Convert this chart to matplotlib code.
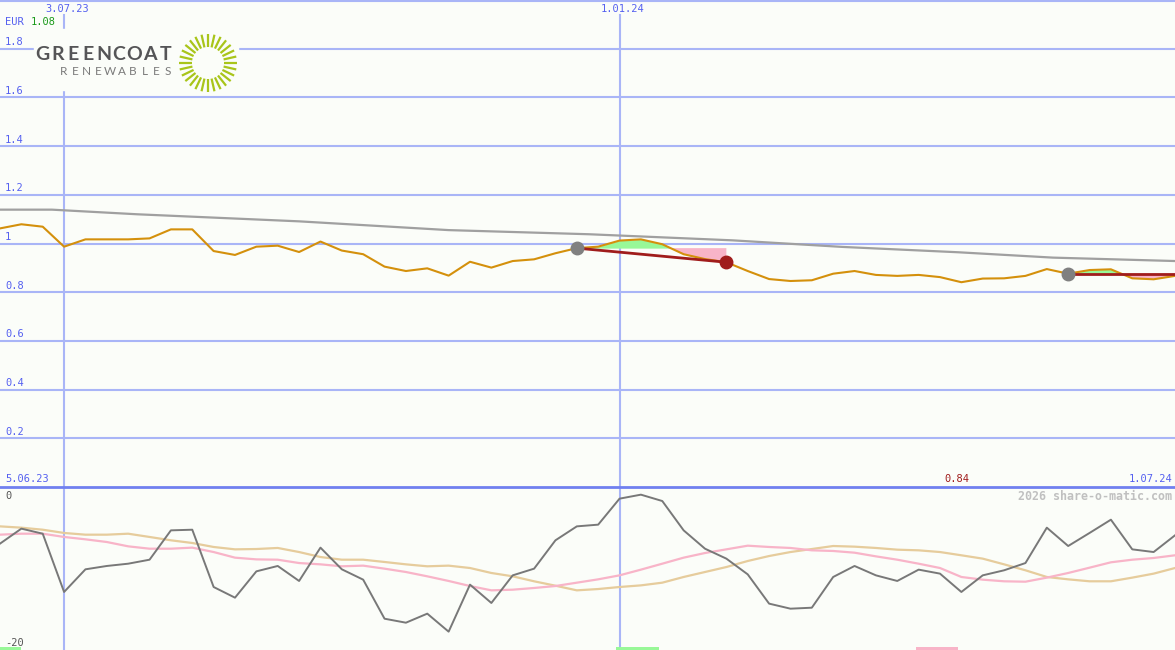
import numpy as np
import pandas as pd
import matplotlib
matplotlib.use('Agg')
import matplotlib.pyplot as plt

# ---- data ----
weeks = pd.date_range('2023-06-12', periods=56, freq='7D')

price = [1.062, 1.079, 1.069, 0.987, 1.017, 1.017, 1.017, 1.021, 1.058, 1.058,
         0.969, 0.953, 0.987, 0.991, 0.965, 1.008, 0.971, 0.956, 0.905, 0.887,
         0.898, 0.868, 0.925, 0.901, 0.928, 0.935, 0.960, 0.981, 0.987, 1.012,
         1.017, 0.997, 0.956, 0.936, 0.923, 0.887, 0.854, 0.846, 0.849, 0.876,
         0.887, 0.871, 0.867, 0.871, 0.862, 0.841, 0.856, 0.857, 0.867, 0.895,
         0.876, 0.891, 0.894, 0.857, 0.853, 0.867]

trend_dates = pd.to_datetime(['2023-06-12', '2023-06-29', '2023-07-27', '2023-09-18',
                              '2023-11-06', '2023-12-22', '2024-02-07', '2024-03-14',
                              '2024-04-21', '2024-05-22', '2024-07-01'])
trend_vals = [1.139, 1.139, 1.120, 1.091, 1.055, 1.038, 1.013, 0.986, 0.964, 0.942, 0.928]

osc = [-6.95, -5.11, -5.73, -12.88, -10.10, -9.69, -9.41, -8.92, -5.32, -5.24,
       -12.27, -13.58, -10.35, -9.69, -11.53, -7.44, -10.10, -11.37, -16.16, -16.65,
       -15.54, -17.75, -11.98, -14.23, -10.84, -10.02, -6.54, -4.83, -4.62, -1.43,
       -0.94, -1.72, -5.32, -7.57, -8.79, -10.72, -14.31, -14.93, -14.81, -11.04,
       -9.69, -10.84, -11.53, -10.14, -10.63, -12.88, -10.84, -10.22, -9.33, -4.99,
       -7.24, -5.64, -4.01, -7.65, -7.98, -5.93]

osc_fast = [-5.85, -5.73, -5.73, -6.13, -6.42, -6.75, -7.28, -7.57, -7.57, -7.44,
            -7.98, -8.67, -8.88, -8.92, -9.33, -9.49, -9.73, -9.65, -10.02, -10.43,
            -10.96, -11.53, -12.15, -12.68, -12.60, -12.39, -12.15, -11.74, -11.33, -10.84,
            -10.14, -9.41, -8.67, -8.10, -7.65, -7.20, -7.36, -7.48, -7.77, -7.85,
            -8.06, -8.51, -8.92, -9.41, -9.94, -11.04, -11.37, -11.57, -11.62, -11.12,
            -10.55, -9.90, -9.24, -8.92, -8.71, -8.38]

osc_slow = [-4.83, -4.99, -5.24, -5.64, -5.85, -5.85, -5.73, -6.13, -6.54, -6.87,
            -7.36, -7.65, -7.61, -7.48, -7.98, -8.59, -8.92, -8.92, -9.20, -9.49,
            -9.73, -9.65, -9.94, -10.55, -10.96, -11.57, -12.11, -12.68, -12.52, -12.27,
            -12.07, -11.74, -11.04, -10.43, -9.82, -9.08, -8.47, -7.98, -7.61, -7.24,
            -7.32, -7.48, -7.69, -7.77, -7.98, -8.38, -8.79, -9.49, -10.22, -11.04,
            -11.33, -11.57, -11.57, -11.12, -10.63, -9.94]

buy_idx = [27, 50]
sell_idx = [34]
green_spans = [('2023-06-05', '2023-06-19'), ('2023-12-31', '2024-01-14')]
pink_spans = [('2024-04-07', '2024-04-21')]
vlines = ['2023-07-03', '2024-01-01']
vlabels = ['3.07.23', '1.01.24']
yticks = [0.2, 0.4, 0.6, 0.8, 1.0, 1.2, 1.4, 1.6, 1.8, 2.0]

# ---- styling ----
BG = '#fbfdf9'
GRID = '#a9b5f7'
BLUE = '#5560f0'
mono = 'DejaVu Sans Mono'
x0, x1 = pd.Timestamp('2023-06-12'), pd.Timestamp('2024-07-01')
price = np.array(price)

fig = plt.figure(figsize=(11.75, 6.5), dpi=100, facecolor=BG)
ax = fig.add_axes([0, 163 / 650, 1, 487 / 650], facecolor=BG)
ax2 = fig.add_axes([0, 0, 1, 163 / 650], facecolor=BG)

for a in (ax, ax2):
    a.set_xlim(x0, x1)
    for s in a.spines.values():
        s.set_visible(False)
    a.set_xticks([])
    a.set_yticks([])

ax.set_ylim(0, 2.0)
ax2.set_ylim(-20, 0)

# grid
for v in yticks:
    ax.axhline(v, color=GRID, lw=1.5, zorder=1)
    if v < 2.0:
        ax.text(5 / 1175, v + 0.006, f'{v:g}', transform=ax.get_yaxis_transform(),
                color=BLUE, fontsize=7.5, family=mono, va='bottom', ha='left')
for d, lab in zip(vlines, vlabels):
    ax.axvline(pd.Timestamp(d), ymax=0.97, color=GRID, lw=1.5, zorder=1)
    ax2.axvline(pd.Timestamp(d), color=GRID, lw=1.5, zorder=1)
    ax.text(pd.Timestamp(d) + pd.Timedelta(days=1), 0.982, lab, transform=ax.get_xaxis_transform(),
            color=BLUE, fontsize=7.5, family=mono, ha='center', va='center')

# trend line
ax.plot(trend_dates, trend_vals, color='#a0a0a0', lw=1.6, zorder=3)

# signal fills
segs = [(buy_idx[0], sell_idx[0] + 1), (buy_idx[1], len(price))]
for s, e in segs:
    xs = weeks[s:e]
    ys = price[s:e]
    lvl = price[s]
    ax.fill_between(xs, ys, lvl, where=ys >= lvl, interpolate=True, color='#98f898', lw=0, zorder=2)
    ax.fill_between(xs, ys, lvl, where=ys <= lvl, interpolate=True, color='#f8b4c8', lw=0, zorder=2)

ax.plot(weeks, price, color='#d4900c', lw=1.5, zorder=4)

# signal lines and dots
ax.plot([weeks[buy_idx[0]], weeks[sell_idx[0]]], [price[buy_idx[0]], price[sell_idx[0]]],
        color='#a01c1c', lw=2, zorder=5)
ax.plot([weeks[buy_idx[1]], x1], [price[buy_idx[1]]] * 2, color='#a01c1c', lw=2, zorder=5)
ax.plot(weeks[buy_idx], price[buy_idx], 'o', color='#808080', ms=9, zorder=6)
ax.plot(weeks[sell_idx], price[sell_idx], 'o', color='#a01c1c', ms=9, zorder=6)

# labels top
ax.text(5 / 1175, 1 - 22 / 487, 'EUR', transform=ax.transAxes, color=BLUE,
        fontsize=7.5, family=mono, va='center')
ax.text(31 / 1175, 1 - 22 / 487, f'{price.max():.2f}', transform=ax.transAxes,
        color='#1a9a1a', fontsize=7.5, family=mono, va='center')
ax.text(5 / 1175, 8 / 487, '5.06.23', transform=ax.transAxes, color=BLUE,
        fontsize=7.5, family=mono, va='center')
ax.text(1172 / 1175, 8 / 487, '1.07.24', transform=ax.transAxes, color=BLUE,
        fontsize=7.5, family=mono, va='center', ha='right')
imin = int(np.argmin(price))
ax.text(weeks[imin] - pd.Timedelta(days=1.5), 8 / 487, f'{price[imin]:.2f}',
        transform=ax.get_xaxis_transform(),
        color='#a01c1c', fontsize=7.5, family=mono, va='center', ha='center')

# lower panel
ax2.plot(weeks, osc_slow, color='#e6cc9c', lw=1.6, zorder=3)
ax2.plot(weeks, osc_fast, color='#f8b4c8', lw=1.6, zorder=3)
ax2.plot(weeks, osc, color='#787878', lw=1.4, zorder=4)
for a, b in green_spans:
    ax2.axvspan(pd.Timestamp(a), pd.Timestamp(b), ymin=0, ymax=0.02, color='#98f898', lw=0)
for a, b in pink_spans:
    ax2.axvspan(pd.Timestamp(a), pd.Timestamp(b), ymin=0, ymax=0.02, color='#f8b4c8', lw=0)
ax2.text(5 / 1175, 1 - 9 / 163, '0', transform=ax2.transAxes, color='#555555',
         fontsize=7.5, family=mono, va='center')
ax2.text(5 / 1175, 7 / 163, '-20', transform=ax2.transAxes, color='#555555',
         fontsize=7.5, family=mono, va='center')
ax2.text(1172 / 1175, 1 - 9 / 163, '2026 share-o-matic.com', transform=ax2.transAxes,
         color='#c0c0c0', fontsize=8.4, family=mono, weight='bold', va='center', ha='right')

# panel separator and top border line
fig.add_artist(plt.Line2D([0, 1], [163 / 650, 163 / 650], color='#7080f0', lw=2, zorder=10))
fig.add_artist(plt.Line2D([0, 1], [1 - 1 / 650, 1 - 1 / 650], color=GRID, lw=1.5))

# ---- logo overlay (pixel coordinates) ----
lg = fig.add_axes([0, 0, 1, 1], facecolor='none')
lg.set_xlim(0, 1175)
lg.set_ylim(650, 0)
lg.axis('off')
lg.add_patch(plt.Rectangle((34, 29), 204, 61, color=BG, zorder=1))
for i, ch in enumerate('GREENCOAT'):
    lg.text(42 + i * 15.4, 55, ch, ha='center', va='center', fontsize=14,
            family='Lato', weight='bold', color='#555557', zorder=2)
for i, ch in enumerate('RENEWABLES'):
    lg.text(63.5 + i * 11.6, 71.5, ch, ha='center', va='center', fontsize=8.5,
            family='Lato', color='#7a7a7a', zorder=2)
cx, cy = 208, 63
for ang in np.linspace(0, 2 * np.pi, 28, endpoint=False):
    lg.plot([cx + 16 * np.cos(ang), cx + 29 * np.cos(ang)],
            [cy + 16 * np.sin(ang), cy + 29 * np.sin(ang)],
            color='#a9c51a', lw=1.6, solid_capstyle='butt', zorder=2)

fig.savefig('out.png', dpi=100, facecolor=BG)
print('saved')
